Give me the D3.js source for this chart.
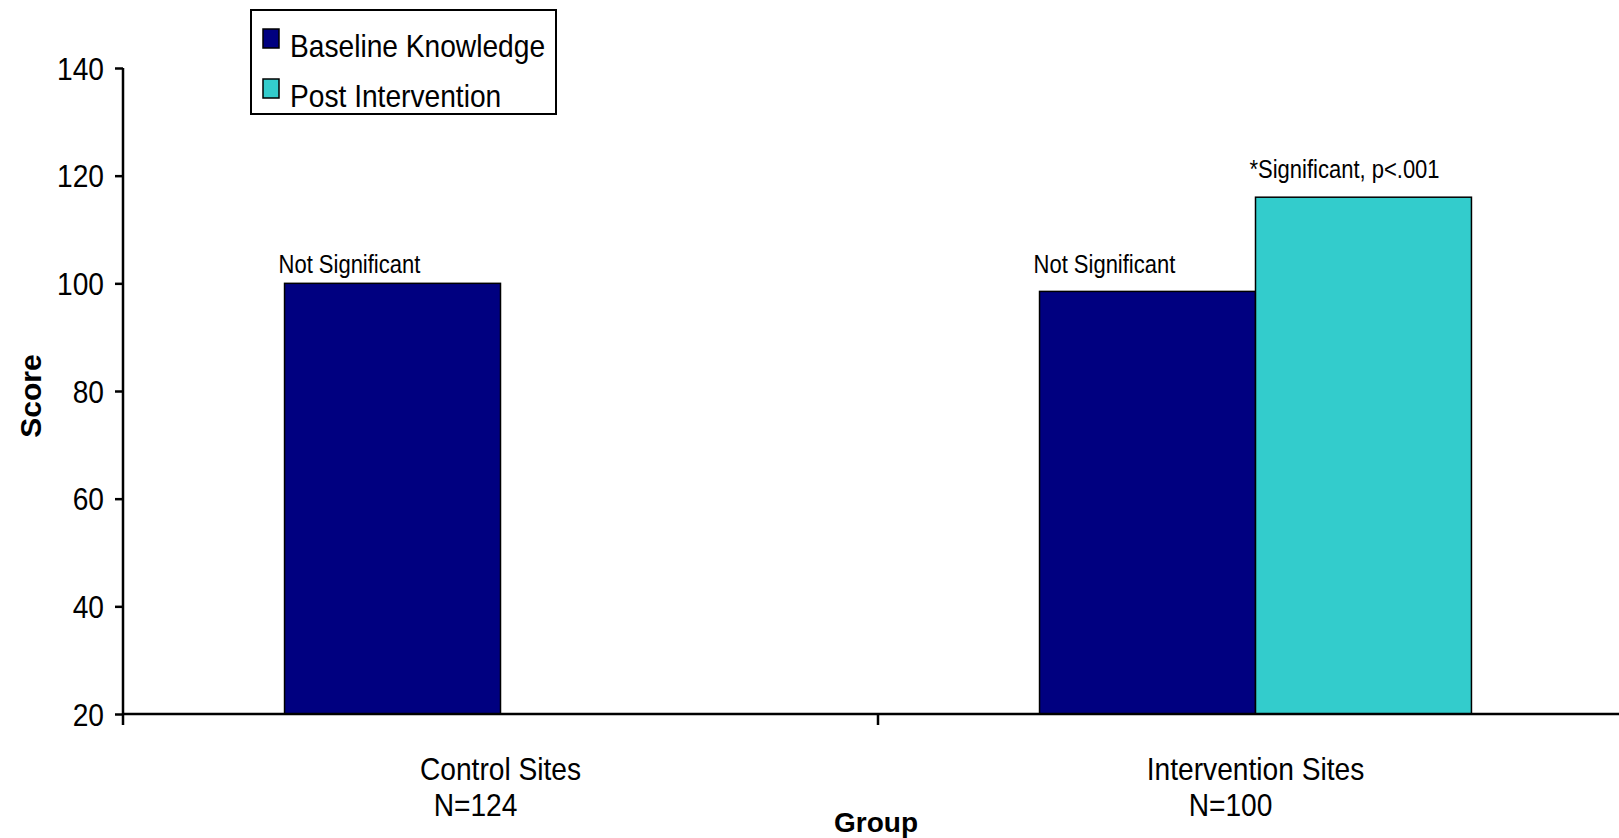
<!DOCTYPE html>
<html>
<head>
<meta charset="utf-8">
<script src="https://cdn.jsdelivr.net/npm/d3@7"></script>
<style>
  body { margin: 0; background: #fff; }
  svg { display: block; }
  text { font-family: "Liberation Sans", Arial, sans-serif; fill: #000; }
  .bold { font-weight: bold; }
</style>
</head>
<body>
<svg width="1619" height="838"></svg>
<script>
var WIDTH = 1619
var HEIGHT = 838

// data
var groups = ["Control Sites", "Intervention Sites"];
var groupCounts = ["N=124", "N=100"];
var series = ["Baseline Knowledge", "Post Intervention"];
var baseline = [100, 98.5];
var post = [null, 116];
var notesBaseline = ["Not Significant", "Not Significant"];
var notesPost = [null, "*Significant, p<.001"];
// score level each note sits on
var notesBaselineAt = [102, 102];
var notesPostAt = [null, 119.6];
var yTicks = [20, 40, 60, 80, 100, 120, 140];
var colors = ["#000080", "#33CCCC"];

var svg = d3.select("svg");

var mLeft = 123, mRight = 1633, mTop = 68, mBottom = 714;
var SQUEEZE = 0.88;

// puts a narrow-looking text at (x, y)
function narrowText(parent, x, y, str, size, anchor) {
    return parent.append("text")
        .attr("transform", "translate(" + x + "," + y + ") scale(" + SQUEEZE + ",1)")
        .attr("text-anchor", anchor || "start")
        .style("font-size", size + "px")
        .text(str);
}

var x0 = d3.scaleBand()
    .domain(groups)
    .range([mLeft, mRight]);

var x1 = d3.scaleBand()
    .domain(series)
    .range([0, x0.bandwidth()])
    .paddingOuter(0.748);

var y = d3.scaleLinear()
    .domain([20, 140])
    .range([mBottom, mTop]);

var color = d3.scaleOrdinal().domain(series).range(colors);

// bars
var rows = [];
groups.forEach(function (g, i) {
    rows.push({ group: g, key: series[0], value: baseline[i], note: notesBaseline[i], noteAt: notesBaselineAt[i] });
    rows.push({ group: g, key: series[1], value: post[i], note: notesPost[i], noteAt: notesPostAt[i] });
});
var bars = rows.filter(function (d) { return d.value != null; });

svg.append("g").selectAll("rect")
    .data(bars)
    .enter().append("rect")
    .attr("x", function (d) { return x0(d.group) + x1(d.key); })
    .attr("y", function (d) { return y(d.value); })
    .attr("width", x1.bandwidth())
    .attr("height", function (d) { return y(20) - y(d.value); })
    .style("fill", function (d) { return color(d.key); })
    .style("stroke", "#000")
    .style("stroke-width", 1.5);

// notes above bars
var notes = svg.append("g");
bars.filter(function (d) { return d.note; }).forEach(function (d) {
    narrowText(notes, x0(d.group) + x1(d.key) - 6, y(d.noteAt), d.note, 25);
});

// y axis
var yAxis = d3.axisLeft(y)
    .tickValues(yTicks)
    .tickSize(8)
    .tickPadding(0)
    .tickFormat("");
var gy = svg.append("g")
    .attr("transform", "translate(" + mLeft + ",0)")
    .call(yAxis);
gy.select(".domain").attr("d", "M0," + mTop + "V" + (mBottom + 11));
gy.selectAll("path, line").style("stroke", "#000").style("stroke-width", 2.5);
gy.selectAll(".tick").each(function (d) {
    narrowText(d3.select(this), -19, 11, d, 32, "end");
});

// x axis
var xAxis = d3.axisBottom(x0).tickSize(0).tickFormat("");
var gx = svg.append("g")
    .attr("transform", "translate(0," + mBottom + ")")
    .call(xAxis);
gx.select(".domain").attr("d", "M" + mLeft + ",0H" + mRight).style("stroke", "#000").style("stroke-width", 2.5);
gx.append("line")
    .attr("x1", x0(groups[1])).attr("x2", x0(groups[1]))
    .attr("y1", 0).attr("y2", 11)
    .style("stroke", "#000").style("stroke-width", 2.5);

// category labels
var cat = svg.append("g");
groups.forEach(function (g, i) {
    var cx = x0(g) + x0.bandwidth() / 2;
    narrowText(cat, cx, 780, g, 32, "middle");
    narrowText(cat, cx - 25, 816, groupCounts[i], 32, "middle");
});

// axis titles
svg.append("text")
    .attr("class", "bold")
    .attr("x", 876)
    .attr("y", 832)
    .attr("text-anchor", "middle")
    .style("font-size", "28px")
    .text("Group");

svg.append("text")
    .attr("class", "bold")
    .attr("transform", "translate(41,396) rotate(-90)")
    .attr("text-anchor", "middle")
    .style("font-size", "30px")
    .text("Score");

// legend
var legend = svg.append("g");
legend.append("rect")
    .attr("x", 251).attr("y", 10)
    .attr("width", 305).attr("height", 104)
    .style("fill", "#fff").style("stroke", "#000").style("stroke-width", 2);
series.forEach(function (s, i) {
    var item = legend.append("g")
        .attr("transform", "translate(263," + (29 + i * 50) + ")");
    item.append("rect")
        .attr("width", 16).attr("height", 19)
        .style("fill", color(s))
        .style("stroke", "#000").style("stroke-width", 1.5);
    narrowText(item, 27, 28, s, 32);
});
</script>
</body>
</html>
